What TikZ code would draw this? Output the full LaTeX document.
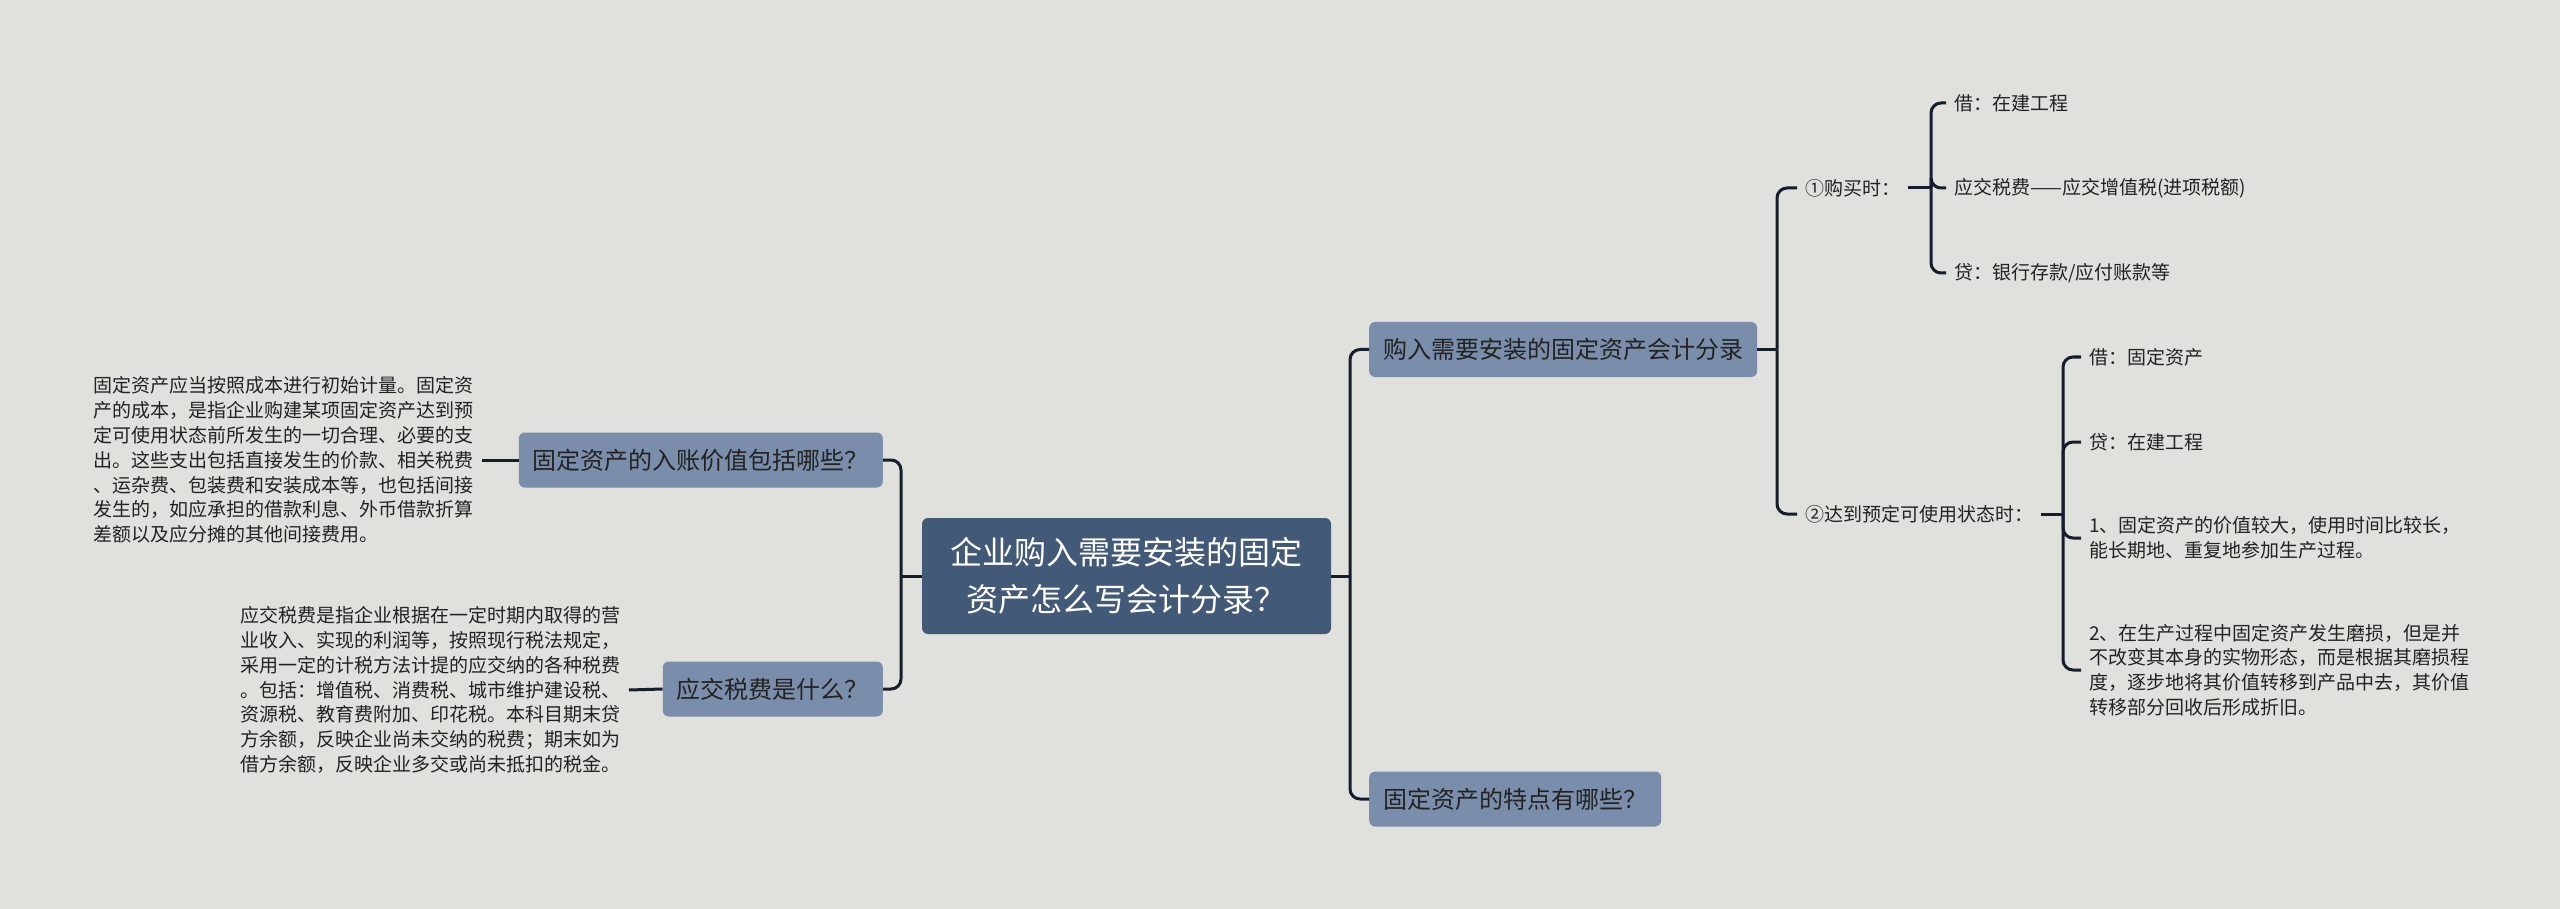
\documentclass[tikz,border=0pt]{standalone}
\usepackage{fontspec}
\setmainfont{Noto Sans CJK SC}
\usepackage{tikz}
\usetikzlibrary{positioning}
\definecolor{MapBack}{RGB}{224,224,220}
\definecolor{MapRoot}{RGB}{67,89,120}
\definecolor{MapTopic}{RGB}{122,142,171}
\definecolor{MapLine}{RGB}{22,30,46}
\definecolor{MapText}{RGB}{34,34,34}

\begin{document}
\begin{tikzpicture}[
    x=1pt, y=-1pt,
    root/.style={rounded corners=6pt, fill=MapRoot, text=white, minimum width=409pt, minimum height=116pt, align=center, font=\fontsize{32}{47}\selectfont},
    topic/.style={rounded corners=6pt, fill=MapTopic, text=MapText, inner xsep=14pt, minimum height=55pt, font=\fontsize{24}{28}\selectfont},
    leaf/.style={text=MapText, inner xsep=8pt, inner ysep=0pt, align=left, font=\fontsize{19}{24.8}\selectfont},
    conn/.style={line width=3pt, draw=MapLine, rounded corners=10pt}
  ]
    \fill[MapBack] (0,0) rectangle (2560,909);
    \useasboundingbox (0,0) rectangle (2560,909);
    % centre topic
    \node[root] (root) at (1126.5,576) {企业购入需要安装的固定\\资产怎么写会计分录？};
    % left branch
    \node[topic, anchor=east] (entry) at (883,460) {固定资产的入账价值包括哪些？};
    \node[topic, anchor=east] (tax) at (883,689) {应交税费是什么？};
    \node[leaf, anchor=east] (entrytxt) at (482,460) {固定资产应当按照成本进行初始计量。固定资\\产的成本，是指企业购建某项固定资产达到预\\定可使用状态前所发生的一切合理、必要的支\\出。这些支出包括直接发生的价款、相关税费\\、运杂费、包装费和安装成本等，也包括间接\\发生的，如应承担的借款利息、外币借款折算\\差额以及应分摊的其他间接费用。};
    \node[leaf, anchor=east] (taxtxt) at (629,690) {应交税费是指企业根据在一定时期内取得的营\\业收入、实现的利润等，按照现行税法规定，\\采用一定的计税方法计提的应交纳的各种税费\\。包括：增值税、消费税、城市维护建设税、\\资源税、教育费附加、印花税。本科目期末贷\\方余额，反映企业尚未交纳的税费；期末如为\\借方余额，反映企业多交或尚未抵扣的税金。};
    % right branch
    \node[topic, anchor=west] (buy) at (1369,349.5) {购入需要安装的固定资产会计分录};
    \node[topic, anchor=west] (feat) at (1369,799) {固定资产的特点有哪些？};
    \node[leaf, anchor=west] (buyt) at (1797,188) {①购买时：};
    \node[leaf, anchor=west] (ready) at (1797,514) {②达到预定可使用状态时：};
    \node[leaf, anchor=west] (d1) at (1946,103) {借：在建工程};
    \node[leaf, anchor=west] (d2) at (1946,188) {应交税费——应交增值税(进项税额)};
    \node[leaf, anchor=west] (d3) at (1946,273) {贷：银行存款/应付账款等};
    \node[leaf, anchor=west] (r1) at (2081,357) {借：固定资产};
    \node[leaf, anchor=west] (r2) at (2081,442) {贷：在建工程};
    \node[leaf, anchor=west] (r3) at (2081,538) {1、固定资产的价值较大，使用时间比较长，\\能长期地、重复地参加生产过程。};
    \node[leaf, anchor=west] (r4) at (2081,670) {2、在生产过程中固定资产发生磨损，但是并\\不改变其本身的实物形态，而是根据其磨损程\\度，逐步地将其价值转移到产品中去，其价值\\转移部分回收后形成折旧。};
    % junctions
    \coordinate (jl) at (901,576);
    \coordinate (jr) at (1350,576);
    \coordinate (jb) at (1777,349.5);
    \coordinate (j1) at (1931,188);
    \coordinate (j2) at (2063,514);
    \draw[conn] (root.west) -- (jl);
    \draw[conn] (root.east) -- (jr);
    \draw[conn] (buy.east) -- (jb);
    \draw[conn] (buyt.east) -- (j1);
    \draw[conn] (ready.east) -- (j2);
    \draw[conn] (entrytxt.east) -- (entry.west);
    \draw[conn] (taxtxt.east) -- (tax.west);
    \foreach \a/\b in {jl/entry,jl/tax} {\draw[conn] (\a) |- (\b.east);}
    \foreach \a/\b in {jr/buy,jr/feat,jb/buyt,jb/ready,j1/d1,j1/d2,j1/d3,j2/r1,j2/r2,j2/r3,j2/r4} {\draw[conn] (\a) |- (\b.west);}
  \end{tikzpicture}
\end{document}
